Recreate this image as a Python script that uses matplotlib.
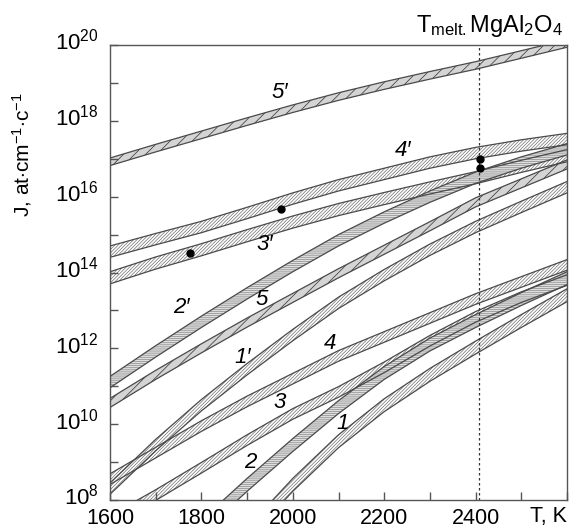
import numpy as np
import matplotlib
matplotlib.use("Agg")
import matplotlib.pyplot as plt
import matplotlib.transforms as mtransforms

plt.rcParams['font.family'] = ['Liberation Sans', 'DejaVu Sans']
plt.rcParams['mathtext.fontset'] = 'custom'
plt.rcParams['mathtext.rm'] = 'Liberation Sans'
plt.rcParams['mathtext.it'] = 'Liberation Sans:italic'
plt.rcParams['hatch.linewidth'] = 0.5

# temperature grid, K
T = [1600, 1700, 1800, 1900, 2000, 2100, 2200, 2300, 2400, 2500, 2600]
T_2 = [1800, 1900, 2000, 2100, 2200, 2300, 2400, 2500, 2600]
T_1 = [1900, 2000, 2100, 2200, 2300, 2400, 2500, 2600]

# lg J band centres, at/(cm*s)
lg_5p = [16.92, 17.28, 17.63, 17.98, 18.32, 18.64, 18.93, 19.20, 19.46, 19.75, 20.04]
lg_4p = [14.55, 14.88, 15.20, 15.57, 15.95, 16.30, 16.60, 16.90, 17.15, 17.35, 17.52]
lg_3p = [13.86, 14.25, 14.60, 14.97, 15.33, 15.66, 15.95, 16.23, 16.50, 16.80, 17.08]
lg_2p = [11.11, 11.92, 12.70, 13.45, 14.17, 14.85, 15.45, 16.00, 16.50, 16.90, 17.25]
lg_5 = [10.56, 11.30, 12.00, 12.68, 13.33, 13.98, 14.60, 15.22, 15.85, 16.35, 16.85]
lg_1p = [8.30, 9.45, 10.50, 11.45, 12.35, 13.20, 13.93, 14.60, 15.20, 15.73, 16.25]
lg_4 = [8.55, 9.25, 9.95, 10.60, 11.20, 11.80, 12.30, 12.80, 13.30, 13.75, 14.20]
lg_3 = [7.45, 8.13, 8.85, 9.58, 10.27, 10.85, 11.50, 12.20, 12.83, 13.35, 13.80]
lg_2 = [7.30, 8.40, 9.45, 10.45, 11.35, 12.10, 12.72, 13.30, 13.85]
lg_1 = [7.10, 8.40, 9.55, 10.50, 11.30, 12.02, 12.72, 13.40]

# band half-widths, decades
hw = {'5p': 0.10, '4p': 0.15, '3p': 0.16, '2p': 0.15, '5': 0.12,
      '1p': 0.15, '4': 0.14, '3': 0.14, '2': 0.17, '1': 0.17}

# experimental points
exp_T = [1775, 1975, 2410, 2410]
exp_lg = [14.52, 15.68, 17.00, 16.76]

T_melt = 2408

labels = ['1', '2', '3', '4', '5', "1\u2032", "2\u2032", "3\u2032", "4\u2032", "5\u2032"]
lab_T = [2110, 1906, 1972, 2081, 1932, 1891, 1757, 1939, 2241, 1972]
lab_lg = [10.03, 9.00, 10.56, 12.14, 13.28, 11.77, 13.07, 14.73, 17.23, 18.74]

styles = {
    'diag': dict(facecolor='white', edgecolor='#707070', hatch='/' * 10),
    'horz': dict(facecolor='#dedede', edgecolor='#8a8a8a', hatch='-' * 8),
    'dark': dict(facecolor='#d4d4d4', edgecolor='#303030', hatch='///'),
}

bands = [
    (T, lg_5p, hw['5p'], 'dark'),
    (T, lg_4p, hw['4p'], 'diag'),
    (T, lg_3p, hw['3p'], 'diag'),
    (T, lg_2p, hw['2p'], 'horz'),
    (T, lg_5, hw['5'], 'dark'),
    (T, lg_1p, hw['1p'], 'diag'),
    (T, lg_4, hw['4'], 'diag'),
    (T, lg_3, hw['3'], 'diag'),
    (T_2, lg_2, hw['2'], 'horz'),
    (T_1, lg_1, hw['1'], 'diag'),
]

fig = plt.figure(figsize=(5.7, 5.3), dpi=100)
ax = fig.add_axes([110 / 570, 30 / 530, 457 / 570, 455 / 530])
ax.set_yscale('log')

for t, lg, h, st in bands:
    t = np.array(t)
    lg = np.array(lg)
    lo = 10 ** (lg - h)
    hi = 10 ** (lg + h)
    ax.fill_between(t, lo, hi, linewidth=0, **styles[st])
    ax.plot(t, lo, color='#4a4a4a', lw=0.9)
    ax.plot(t, hi, color='#4a4a4a', lw=0.9)

ax.plot(exp_T, 10 ** np.array(exp_lg), 'o', color='black', ms=5, zorder=5)

ax.axvline(T_melt, color='#333333', lw=0.9, ls=(0, (2, 2)))

for s, x, y in zip(labels, lab_T, lab_lg):
    ax.text(x, 10 ** y, s, fontsize=16, style='italic', ha='center', va='center',
            family=['Liberation Sans', 'DejaVu Sans'])

ax.set_xlim(1600, 2600)
ax.set_ylim(1e8, 1e20)

xt = list(range(1600, 2601, 100))
ax.set_xticks(xt)
ax.set_xticklabels([str(v) if v % 200 == 0 and v < 2600 else '' for v in xt], fontsize=15.5)
yt = [10.0 ** k for k in range(8, 21)]
ax.set_yticks(yt)
ax.set_yticklabels([r'$10^{%d}$' % k if k % 2 == 0 else '' for k in range(8, 21)], fontsize=16)
ax.minorticks_off()
ax.tick_params(direction='in', length=6, width=1, color='#555555', pad=8)
ax.tick_params(axis='x', pad=6)
for sp in ax.spines.values():
    sp.set_color('#555555')
    sp.set_linewidth(1.0)

# lift the decade labels a little so the "10" sits on the tick
lift = mtransforms.ScaledTranslation(0, 4 / 72, fig.dpi_scale_trans)
for lab in ax.get_yticklabels():
    lab.set_transform(lab.get_transform() + lift)

ax.text(2600, -0.014, 'T, K', transform=ax.get_xaxis_transform(),
        ha='right', va='top', fontsize=15.5)
fig.text(22 / 570, 1 - 155 / 530, r'J, at$\cdot$cm$^{-1}$$\cdot$c$^{-1}$',
         rotation=90, ha='center', va='center', fontsize=15)
fig.text(563 / 570, 1 - 26 / 530, r'T$_{\rm melt.}$MgAl$_{2}$O$_{4}$',
         ha='right', va='center', fontsize=17)

fig.savefig('out.png', dpi=100)
